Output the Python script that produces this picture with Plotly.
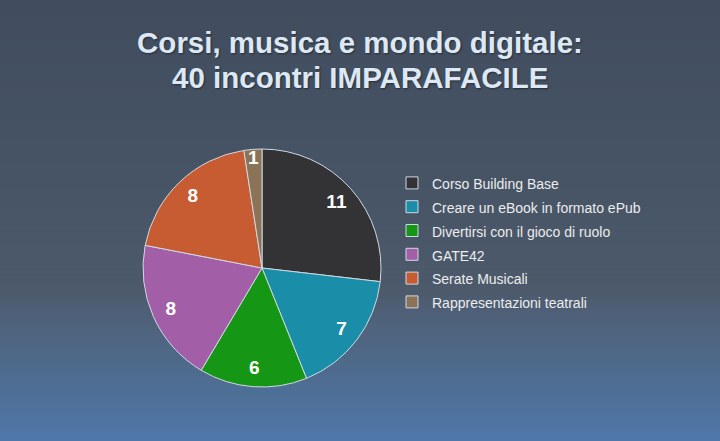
import plotly.graph_objects as go

categories = ["Corso Building Base", "Creare un eBook in formato ePub",
              "Divertirsi con il gioco di ruolo", "GATE42", "Serate Musicali",
              "Rappresentazioni teatrali"]
values = [11, 7, 6, 8, 8, 1]
colors = ["#333335", "#1a8ea9", "#159715", "#a25fa8", "#c75b31", "#8a7357"]
title_line1 = "Corsi, musica e mondo digitale:"
title_line2 = "40 incontri IMPARAFACILE"

# background gradient stops (fraction from top, rgb)
bg_stops = [(0.0, (65, 77, 94)), (0.45, (71, 85, 102)), (0.66, (76, 90, 108)),
            (0.71, (79, 96, 120)), (0.82, (78, 106, 138)), (1.0, (79, 120, 170))]

def bg_color(t):
    for (t0, c0), (t1, c1) in zip(bg_stops[:-1], bg_stops[1:]):
        if t0 <= t <= t1:
            f = (t - t0) / (t1 - t0)
            return "rgb(%d,%d,%d)" % tuple(round(a + (b - a) * f) for a, b in zip(c0, c1))
    return "rgb(%d,%d,%d)" % bg_stops[-1][1]

n_strips = 90
shapes = []
for i in range(n_strips):
    t = (i + 0.5) / n_strips
    shapes.append(dict(type="rect", xref="paper", yref="paper", x0=0, x1=1,
                       y0=1 - (i + 1) / n_strips - 0.002, y1=1 - i / n_strips,
                       fillcolor=bg_color(t), line=dict(width=0), layer="below"))

pie_domain = dict(x=[143 / 720, 381 / 720], y=[1 - 387 / 441, 1 - 149 / 441])
legend_labels = ["<span style='font-size:14px'>%s</span>" % c for c in categories]
label_font = dict(family="Liberation Sans, Arial", size=19, color="white", weight="bold")

fig = go.Figure()
# coloured slices
fig.add_trace(go.Pie(
    labels=legend_labels, values=values, sort=False, direction="clockwise", rotation=0,
    marker=dict(colors=colors, line=dict(color="#d0d8e2", width=1)),
    textinfo="none", domain=pie_domain, hoverinfo="label+value",
))
# transparent ring carrying the value labels (places them near the rim)
fig.add_trace(go.Pie(
    labels=legend_labels, values=values, sort=False, direction="clockwise", rotation=0,
    hole=0.68, showlegend=False,
    marker=dict(colors=["rgba(0,0,0,0)"] * len(values), line=dict(width=0)),
    textinfo="value", textposition="inside", insidetextorientation="horizontal",
    textfont=label_font, domain=pie_domain, hoverinfo="skip",
))

title_font = dict(family="Liberation Sans, Arial", size=29.5, color="#dde8f4",
                  weight="bold", shadow="1px 1px 2px rgba(0,0,0,0.45)")

fig.update_layout(
    width=720, height=441,
    margin=dict(l=0, r=0, t=0, b=0),
    paper_bgcolor="#47556a", plot_bgcolor="rgba(0,0,0,0)",
    shapes=shapes,
    uniformtext=dict(minsize=19, mode="show"),
    title=dict(text=title_line1, x=0.5, xanchor="center", y=1 - 43 / 441, yanchor="middle",
               font=title_font),
    annotations=[dict(text=title_line2, x=0.5, xref="paper", xanchor="center",
                      y=1 - 77 / 441, yref="paper", yanchor="middle", showarrow=False,
                      font=title_font)],
    legend=dict(x=392 / 720, xanchor="left", y=1 - 166 / 441, yanchor="top",
                font=dict(family="Liberation Sans, Arial", size=16, color="#ececec"),
                bgcolor="rgba(0,0,0,0)", itemclick=False),
    showlegend=True,
)

fig.write_html("out.html", config={"displayModeBar": False},
               post_script="document.body.style.margin='0';document.body.style.overflow='hidden';")
